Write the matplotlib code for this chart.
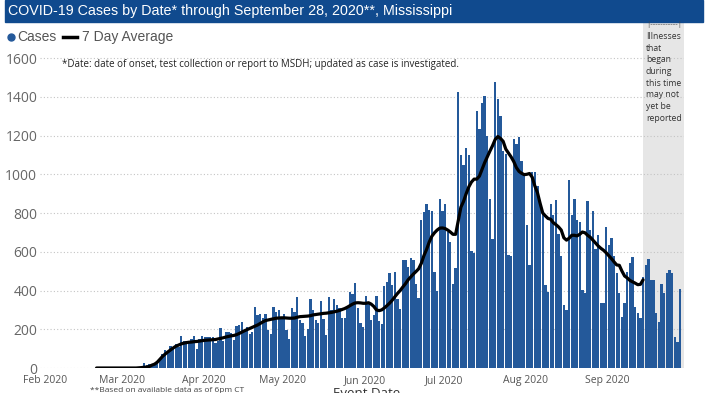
import matplotlib
matplotlib.use('Agg')
import matplotlib.pyplot as plt
from matplotlib.lines import Line2D
from matplotlib.patches import Rectangle
import pandas as pd

# Casos diarios por fecha de evento (desde el 20 feb 2020)
first_day = '2020-02-20'
cases = [
    0, 0, 0, 0, 1, 0, 0, 0, 1, 0, 0, 0, 1, 0, 1, 1, 2, 3,
    28, 14, 20, 22, 26, 36, 42,
    70, 95, 84, 114, 105, 124, 110,
    166, 138, 140, 132, 150, 166, 100,
    150, 166, 160, 162, 160, 162, 130,
    140, 208, 138, 184, 184, 180, 145,
    219, 222, 240, 197, 214, 174, 185,
    314, 274, 279, 257, 278, 197, 176,
    317, 291, 300, 262, 279, 197, 150,
    309, 290, 365, 250, 234, 165, 200,
    357, 300, 250, 230, 345, 255, 170,
    369, 300, 355, 325, 310, 260, 256,
    311, 393, 380, 441, 311, 230, 213,
    373, 342, 247, 276, 373, 242, 225,
    424, 445, 491, 428, 496, 355, 307,
    555, 555, 520, 568, 555, 433, 362,
    762, 805, 848, 814, 809, 496, 397,
    874, 809, 848, 702, 651, 436, 517,
    1425, 1097, 1046, 1135, 1100, 603, 596,
    1329, 1234, 1368, 1406, 1200, 870, 668,
    1478, 1386, 1303, 1118, 1106, 585, 577,
    1180, 1154, 1192, 1071, 1003, 737, 530,
    1011, 1011, 939, 840, 797, 428, 393,
    848, 788, 865, 690, 580, 325, 300,
    972, 788, 874, 762, 754, 402, 388,
    862, 711, 809, 616, 685, 333, 333,
    728, 634, 673, 577, 488, 385, 264,
    337, 496, 543, 573, 316, 285, 256,
    470, 531, 565, 453, 453, 282, 239,
    436, 385, 488, 505, 488, 158, 136,
    410,
]

# Media de 7 dias (linea negra); termina el 14 sep
avg_first_day = '2020-02-20'
avg7 = [
    0, 0, 0, 0, 0, 0, 0, 0, 0, 0, 0, 0, 0, 0, 0, 0, 1, 2,
    4, 5, 8, 15, 20, 30, 45,
    60, 72, 83, 93, 103, 112, 118,
    124, 128, 131, 133, 134, 136, 137,
    139, 141, 143, 144, 145, 146, 147,
    150, 153, 156, 160, 163, 166, 168,
    172, 178, 185, 192, 198, 204, 210,
    216, 222, 230, 238, 245, 248, 251,
    254, 257, 258, 259, 259, 258, 257,
    257, 258, 262, 265, 266, 267, 268,
    270, 274, 276, 278, 280, 282, 283,
    285, 287, 290, 293, 297, 302, 307,
    314, 322, 330, 336, 337, 336, 334,
    334, 337, 330, 318, 300, 296, 300,
    310, 322, 335, 350, 368, 385, 400,
    418, 435, 455, 470, 485, 498, 512,
    540, 580, 612, 650, 680, 698, 712,
    722, 723, 720, 712, 702, 690, 690,
    760, 830, 860, 900, 935, 960, 975,
    975, 990, 1025, 1060, 1090, 1120, 1148,
    1180, 1195, 1185, 1170, 1130, 1110, 1090,
    1066, 1035, 1015, 1005, 998, 1000, 1004,
    985, 940, 905, 850, 800, 785, 772,
    768, 750, 740, 728, 712, 672, 660,
    670, 685, 685, 682, 690, 702, 698,
    685, 675, 660, 645, 630, 618, 608,
    595, 580, 565, 548, 532, 530, 500,
    475, 465, 452, 445, 438, 430, 432,
    455,
]

month_ticks = ['2020-02-01', '2020-03-01', '2020-04-01', '2020-05-01',
               '2020-06-01', '2020-07-01', '2020-08-01', '2020-09-01']
month_labels = ['Feb 2020', 'Mar 2020', 'Apr 2020', 'May 2020',
                'Jun 2020', 'Jul 2020', 'Aug 2020', 'Sep 2020']
y_ticks = [0, 200, 400, 600, 800, 1000, 1200, 1400, 1600]
lag_start = '2020-09-14 10:00'
x_start = '2020-01-30 02:00'
x_end = '2020-09-30 00:00'

plt.rcParams['font.family'] = ['Open Sans', 'DejaVu Sans']
narrow = ['Liberation Sans', 'DejaVu Sans']

bar_blue = '#24599a'
half_day = pd.Timedelta(hours=12)
dias = pd.date_range(first_day, periods=len(cases), freq='D') + half_day
dias_avg = pd.date_range(avg_first_day, periods=len(avg7), freq='D') + half_day

fig = plt.figure(figsize=(7.09, 3.93), dpi=100)
ax = fig.add_axes([40 / 709, 25 / 393, 644 / 709, 346 / 393])

# zona gris: casos recientes aun no reportados
ax.axvspan(pd.Timestamp(lag_start), pd.Timestamp(x_end), color='#e6e6e6', zorder=0, lw=0)

ax.bar(dias, cases, width=0.88, color=bar_blue, zorder=2, linewidth=0)
ax.plot(dias_avg, avg7, color='black', lw=2.3, zorder=3, solid_capstyle='round')

ax.set_xlim(pd.Timestamp(x_start), pd.Timestamp(x_end))
ax.set_ylim(0, 1786)
ax.set_yticks(y_ticks)
ax.set_yticklabels([str(v) for v in y_ticks], fontsize=10, color='#666666')
ax.set_xticks(pd.to_datetime(month_ticks))
ax.set_xticklabels(month_labels, fontsize=7.5, color='#555555')
ax.tick_params(length=0)
ax.tick_params(axis='y', pad=2)
ax.tick_params(axis='x', pad=5)
ax.yaxis.grid(True, linestyle=(0, (1, 2)), color='#c4c4c4', lw=0.8, zorder=1)
ax.set_axisbelow(True)
for s in ax.spines.values():
    s.set_visible(False)

# barra del titulo
fig.patches.append(Rectangle((5 / 709, 1 - 22 / 393), 698 / 709, 22 / 393,
                             transform=fig.transFigure, color='#104a8e', zorder=0))
fig.text(8 / 709, 1 - 11 / 393, 'COVID-19 Cases by Date* through September 28, 2020**, Mississippi',
         color='white', fontsize=10.3, family=narrow, va='center', ha='left')

# leyenda
fig.lines.append(Line2D([11 / 709], [1 - 37 / 393], marker='o', markersize=5,
                        color=bar_blue, transform=fig.transFigure))
fig.text(17 / 709, 1 - 37 / 393, 'Cases', fontsize=10, color='#555555', family=narrow, va='center')
fig.lines.append(Line2D([63 / 709, 77 / 709], [1 - 37 / 393, 1 - 37 / 393], color='black',
                        lw=2.5, transform=fig.transFigure))
fig.text(82 / 709, 1 - 37 / 393, '7 Day Average', fontsize=10, color='#555555', family=narrow, va='center')

fig.text(62 / 709, 1 - 65 / 393,
         '*Date: date of onset, test collection or report to MSDH; updated as case is investigated.',
         fontsize=7, color='#222222', va='center')

fig.text(646 / 709, 1 - 25 / 393, '|-----------|', fontsize=5.5, color='#444444', va='center')
fig.text(646 / 709, 1 - 32 / 393,
         'Illnesses\nthat\nbegan\nduring\nthis time\nmay not\nyet be\nreported',
         fontsize=6.2, color='#333333', va='top', linespacing=1.38)

# textos inferiores (cortados en el borde, como en el original)
fig.text(90 / 709, 1 - 387 / 393, '**Based on available data as of 6pm CT', fontsize=6,
         color='#444444', va='top')
fig.text(333 / 709, 1 - 387 / 393, 'Event Date', fontsize=9.5, color='#333333', va='top')

fig.savefig('out.png', dpi=100, facecolor='white')
